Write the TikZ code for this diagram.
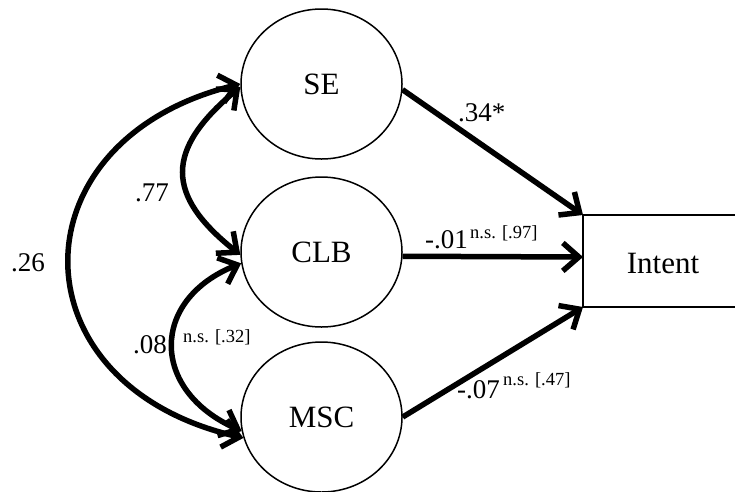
\documentclass[tikz,border=0pt]{standalone}
\usepackage{fontspec}
\setmainfont{Liberation Serif}
\usetikzlibrary{arrows.meta,shapes.geometric}
\begin{document}
\begin{tikzpicture}[x=1pt,y=-1pt,
  latent/.style={draw, ellipse, line width=1.5pt, minimum width=161pt, minimum height=150pt, inner sep=0pt, font=\fontsize{31}{36}\selectfont},
  obsv/.style={inner sep=0pt, font=\fontsize{31}{36}\selectfont},
  regline/.style={line width=5.5pt, -{Straight Barb[length=16pt,width=28pt]}},
  covline/.style={line width=5.5pt, {Straight Barb[length=16pt,width=28pt]}-{Straight Barb[length=16pt,width=28pt]}},
  lab/.style={anchor=base west, inner sep=0pt, font=\fontsize{27}{30}\selectfont},
  suplab/.style={anchor=base west, inner sep=0pt, font=\fontsize{18.5}{20}\selectfont},
  boxline/.style={line width=1.5pt}
]
\useasboundingbox (0,0) rectangle (735,491);

% latent variables
\node[latent] (se)  at (321.5,84)  {SE};
\node[latent] (clb) at (321.5,252) {CLB};
\node[latent] (msc) at (321.5,417) {MSC};

% outcome box (open to the right)
\coordinate (itr) at (735,215);
\coordinate (itl) at (583,215);
\coordinate (ileft) at (583,257);
\coordinate (ibl) at (583,307);
\coordinate (ibr) at (735,307);
\draw[boxline] (itr) -- (itl) -- (ibl) -- (ibr);
\node[obsv] (intent) at (663,263) {Intent};

% regression paths
\draw[regline] (se.-4) -- (itl);
\draw[regline] (clb.-3) -- (ileft);
\draw[regline] (msc.east) -- (ibl);

% covariances
\draw[covline] (se.182) .. controls (165,150) and (165,195) .. (clb.182);
\draw[covline] (clb.188) .. controls (150,300) and (150,390) .. (msc.190);
\draw[covline] (se.180) .. controls (12,140) and (12,385) .. (msc.195);

% labels
\node[lab] (l34) at (458,121) {.34*};
\node[lab] (l01) at (425,248) {-.01};
\node[suplab] (s01) at (470,238) {n.s. [.97]};
\node[lab] (l07) at (457,398) {-.07};
\node[suplab] (s07) at (503,385) {n.s. [.47]};
\node[lab] (l77) at (135,201) {.77};
\node[lab] (l08) at (133,353) {.08};
\node[suplab] (s08) at (183,342) {n.s. [.32]};
\node[lab] (l26) at (11,271) {.26};
\end{tikzpicture}
\end{document}
